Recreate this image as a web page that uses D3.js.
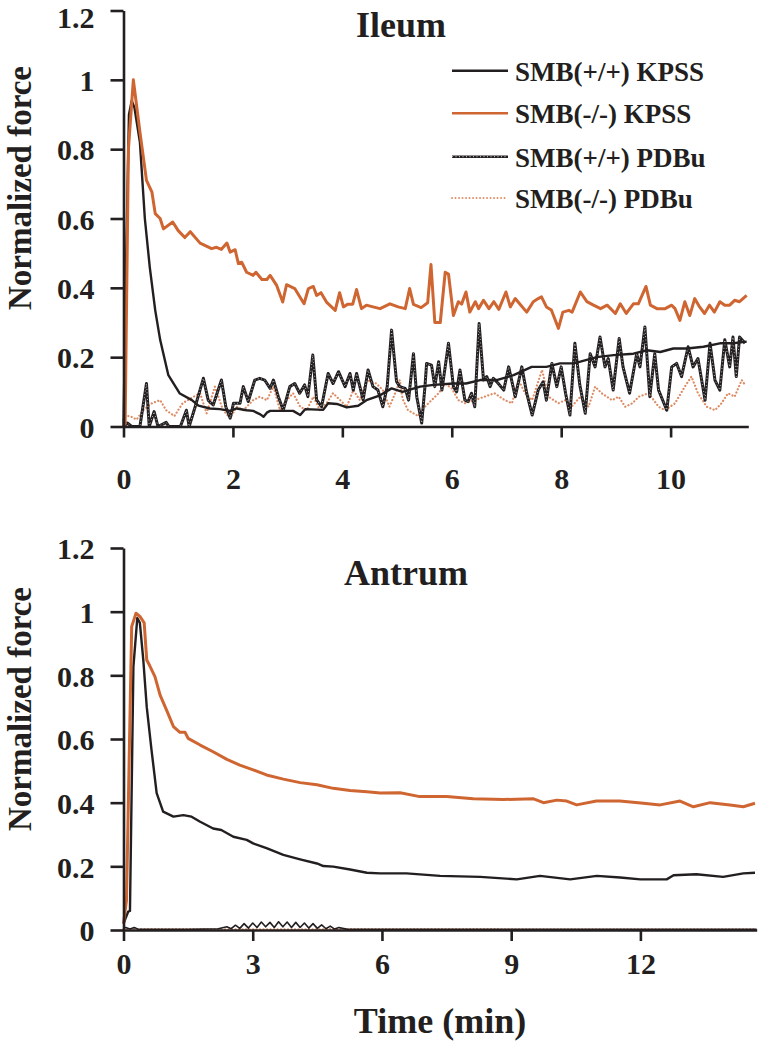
<!DOCTYPE html>
<html>
<head>
<meta charset="utf-8">
<script src="https://cdn.jsdelivr.net/npm/d3@7"></script>
<style>
  html, body { margin: 0; padding: 0; background: #fff; }
  svg { display: block; }
  text { font-family: "Liberation Serif", "Times New Roman", serif; font-weight: bold; fill: #231f20; }
</style>
</head>
<body>
<script>
// ---------------- DATA ----------------
const yTicks = [0, 0.2, 0.4, 0.6, 0.8, 1, 1.2];
const ileumXTicks = [0, 2, 4, 6, 8, 10];
const antrumXTicks = [0, 3, 6, 9, 12];
const seriesNames = ["SMB(+/+) KPSS", "SMB(-/-) KPSS", "SMB(+/+) PDBu", "SMB(-/-) PDBu"];

// Ileum: [time (min), normalized force]
const ileumKpssWT = [[0,0],[0.05,0.5],[0.1,0.9],[0.15,0.94],[0.2,0.92],[0.3,0.82],[0.39,0.6],[0.48,0.46],[0.58,0.335],[0.67,0.25],[0.82,0.148],[1.03,0.095],[1.25,0.076],[1.37,0.06],[1.58,0.052],[1.76,0.05],[1.95,0.045],[2.07,0.052],[2.25,0.047],[2.37,0.045],[2.5,0.035],[2.56,0.028],[2.62,0.04],[2.68,0.045],[2.98,0.045],[3.1,0.045],[3.23,0.033],[3.32,0.05],[3.65,0.048],[3.74,0.067],[3.9,0.065],[4.08,0.055],[4.29,0.06],[4.44,0.076],[4.69,0.09],[4.9,0.11],[5.1,0.1],[5.42,0.115],[5.67,0.12],[6.03,0.124],[6.26,0.124],[6.52,0.134],[6.82,0.134],[7.13,0.148],[7.46,0.172],[7.73,0.172],[7.98,0.182],[8.22,0.182],[8.35,0.187],[8.65,0.2],[8.96,0.206],[9.32,0.21],[9.57,0.22],[9.81,0.215],[10.05,0.225],[10.3,0.225],[10.6,0.23],[10.9,0.24],[11.14,0.24],[11.39,0.245]];

const ileumKpssKO = [[0,0],[0.03,0.01],[0.09,0.8],[0.18,1.0],[0.3,0.85],[0.42,0.71],[0.52,0.676],[0.58,0.614],[0.67,0.6],[0.73,0.57],[0.9,0.59],[1.0,0.565],[1.12,0.545],[1.22,0.562],[1.4,0.529],[1.61,0.513],[1.7,0.517],[1.79,0.511],[1.89,0.529],[1.95,0.503],[2.04,0.51],[2.1,0.47],[2.16,0.474],[2.25,0.445],[2.37,0.436],[2.42,0.445],[2.53,0.424],[2.62,0.424],[2.68,0.436],[2.8,0.407],[2.91,0.359],[2.98,0.409],[3.13,0.398],[3.3,0.354],[3.38,0.398],[3.47,0.404],[3.53,0.378],[3.61,0.386],[3.71,0.359],[3.87,0.335],[3.95,0.386],[4.02,0.345],[4.1,0.353],[4.19,0.353],[4.26,0.395],[4.35,0.34],[4.44,0.35],[4.56,0.345],[4.69,0.34],[4.87,0.354],[5.02,0.345],[5.15,0.34],[5.23,0.398],[5.3,0.352],[5.44,0.343],[5.56,0.357],[5.62,0.467],[5.69,0.3],[5.79,0.3],[5.88,0.445],[5.94,0.44],[6.03,0.32],[6.12,0.36],[6.18,0.353],[6.26,0.388],[6.33,0.33],[6.43,0.36],[6.49,0.34],[6.58,0.364],[6.68,0.34],[6.77,0.36],[6.86,0.338],[6.99,0.388],[7.07,0.345],[7.16,0.369],[7.24,0.354],[7.37,0.33],[7.49,0.36],[7.58,0.369],[7.64,0.374],[7.73,0.345],[7.82,0.336],[7.95,0.283],[8.03,0.33],[8.14,0.335],[8.2,0.33],[8.35,0.388],[8.47,0.36],[8.59,0.35],[8.72,0.34],[8.84,0.35],[8.99,0.326],[9.08,0.354],[9.19,0.326],[9.32,0.354],[9.41,0.354],[9.55,0.404],[9.63,0.35],[9.75,0.34],[9.9,0.34],[10.02,0.35],[10.08,0.34],[10.17,0.306],[10.26,0.36],[10.35,0.32],[10.44,0.369],[10.53,0.345],[10.62,0.326],[10.71,0.35],[10.8,0.33],[10.9,0.36],[10.99,0.35],[11.08,0.35],[11.17,0.364],[11.26,0.36],[11.39,0.378]];

const ileumPdbuWT = [[0,0],[0.07,0.01],[0.15,0.0],[0.3,0.0],[0.42,0.124],[0.47,0.0],[0.56,0.043],[0.63,0.0],[0.78,0.012],[0.83,0.0],[1.04,0.0],[1.15,0.047],[1.2,0.0],[1.31,0.057],[1.46,0.139],[1.55,0.075],[1.64,0.062],[1.79,0.134],[1.87,0.057],[1.95,0.024],[2.01,0.067],[2.13,0.067],[2.19,0.115],[2.28,0.072],[2.4,0.134],[2.49,0.139],[2.58,0.134],[2.68,0.11],[2.74,0.134],[2.83,0.086],[2.92,0.047],[3.04,0.115],[3.13,0.124],[3.22,0.096],[3.31,0.12],[3.37,0.086],[3.46,0.206],[3.53,0.077],[3.62,0.057],[3.74,0.153],[3.83,0.124],[3.93,0.158],[4.05,0.115],[4.14,0.153],[4.2,0.105],[4.26,0.153],[4.38,0.077],[4.47,0.163],[4.56,0.115],[4.65,0.105],[4.74,0.057],[4.82,0.115],[4.9,0.278],[4.99,0.13],[5.05,0.115],[5.15,0.11],[5.21,0.076],[5.3,0.21],[5.36,0.086],[5.45,0.01],[5.51,0.115],[5.54,0.182],[5.63,0.177],[5.69,0.115],[5.76,0.187],[5.82,0.105],[5.94,0.24],[6.03,0.115],[6.09,0.1],[6.15,0.163],[6.24,0.076],[6.3,0.072],[6.36,0.096],[6.42,0.057],[6.5,0.297],[6.58,0.134],[6.64,0.144],[6.7,0.115],[6.76,0.139],[6.85,0.124],[6.95,0.105],[7.04,0.172],[7.16,0.086],[7.28,0.172],[7.37,0.096],[7.47,0.033],[7.58,0.105],[7.67,0.129],[7.73,0.076],[7.83,0.182],[7.92,0.115],[8.0,0.172],[8.08,0.096],[8.16,0.033],[8.25,0.24],[8.34,0.12],[8.44,0.038],[8.53,0.21],[8.62,0.172],[8.71,0.258],[8.8,0.172],[8.86,0.196],[8.95,0.105],[9.06,0.254],[9.13,0.172],[9.25,0.096],[9.38,0.21],[9.44,0.172],[9.53,0.287],[9.62,0.086],[9.71,0.21],[9.78,0.105],[9.93,0.047],[10.02,0.172],[10.11,0.182],[10.2,0.144],[10.32,0.23],[10.41,0.172],[10.5,0.196],[10.63,0.076],[10.72,0.24],[10.81,0.134],[10.9,0.105],[10.99,0.25],[11.08,0.172],[11.14,0.258],[11.2,0.144],[11.26,0.258],[11.36,0.24]];

const ileumPdbuKO = [[0,0.02],[0.03,0.03],[0.12,0.03],[0.24,0.02],[0.36,0.047],[0.52,0.067],[0.67,0.076],[0.78,0.047],[0.93,0.03],[1.08,0.067],[1.28,0.086],[1.4,0.096],[1.52,0.038],[1.67,0.115],[1.82,0.047],[1.95,0.024],[2.07,0.057],[2.19,0.047],[2.37,0.076],[2.49,0.086],[2.62,0.076],[2.74,0.115],[2.86,0.047],[2.98,0.076],[3.1,0.096],[3.23,0.057],[3.35,0.047],[3.47,0.086],[3.59,0.047],[3.71,0.067],[3.83,0.096],[3.96,0.076],[4.08,0.057],[4.2,0.105],[4.32,0.076],[4.44,0.134],[4.62,0.124],[4.74,0.105],[4.86,0.057],[4.99,0.105],[5.05,0.134],[5.1,0.08],[5.2,0.047],[5.39,0.03],[5.51,0.057],[5.63,0.076],[5.76,0.096],[5.88,0.124],[6.0,0.11],[6.12,0.076],[6.24,0.067],[6.42,0.076],[6.6,0.086],[6.78,0.096],[6.97,0.076],[7.1,0.067],[7.22,0.134],[7.34,0.096],[7.47,0.076],[7.65,0.163],[7.77,0.086],[7.95,0.067],[8.07,0.076],[8.19,0.057],[8.35,0.086],[8.5,0.057],[8.62,0.115],[8.74,0.096],[8.93,0.076],[9.05,0.086],[9.17,0.057],[9.3,0.067],[9.42,0.086],[9.6,0.096],[9.78,0.057],[9.9,0.047],[10.08,0.067],[10.26,0.115],[10.38,0.144],[10.5,0.096],[10.66,0.057],[10.81,0.047],[10.93,0.067],[11.05,0.096],[11.17,0.086],[11.3,0.134],[11.36,0.12]];

// Antrum
const antrumKpssWT = [[0,0.02],[0.11,0.058],[0.15,0.06],[0.23,0.827],[0.32,0.98],[0.38,0.965],[0.46,0.848],[0.54,0.7],[0.65,0.566],[0.77,0.43],[0.92,0.372],[1.16,0.356],[1.39,0.361],[1.58,0.356],[1.78,0.34],[2.08,0.319],[2.27,0.314],[2.55,0.293],[2.86,0.283],[3.01,0.272],[3.32,0.257],[3.71,0.236],[4.1,0.222],[4.49,0.209],[4.64,0.201],[4.87,0.199],[5.26,0.19],[5.65,0.18],[5.96,0.178],[6.57,0.178],[7.35,0.17],[8.28,0.167],[9.13,0.159],[9.67,0.17],[10.37,0.159],[10.99,0.17],[11.53,0.165],[12.0,0.159],[12.61,0.159],[12.77,0.172],[13.3,0.175],[13.92,0.167],[14.39,0.178],[14.66,0.18]];

const antrumKpssKO = [[0,0.02],[0.07,0.094],[0.19,0.953],[0.29,0.995],[0.38,0.985],[0.48,0.965],[0.54,0.848],[0.61,0.83],[0.73,0.796],[0.85,0.738],[1.0,0.691],[1.16,0.639],[1.31,0.621],[1.43,0.621],[1.5,0.602],[1.78,0.581],[2.08,0.56],[2.4,0.536],[2.7,0.518],[3.01,0.503],[3.32,0.487],[3.71,0.474],[4.1,0.463],[4.49,0.456],[4.87,0.445],[5.26,0.438],[5.65,0.434],[5.96,0.43],[6.42,0.431],[6.88,0.419],[7.5,0.419],[8.12,0.412],[8.82,0.41],[9.52,0.412],[9.75,0.4],[10.06,0.408],[10.29,0.405],[10.52,0.393],[10.98,0.405],[11.52,0.405],[12.07,0.398],[12.46,0.393],[12.92,0.405],[13.23,0.387],[13.62,0.4],[14.08,0.393],[14.39,0.387],[14.66,0.398]];

const antrumPdbuWT = [[0,0.005],[0.05,0.008],[0.15,0.003],[0.25,0.008],[0.35,0.002],[0.6,0.002],[1.5,0.002],[2.2,0.004],[2.4,0.01],[2.5,0.004],[2.6,0.015],[2.7,0.005],[2.8,0.02],[2.9,0.006],[3.0,0.022],[3.1,0.008],[3.2,0.025],[3.3,0.01],[3.4,0.024],[3.5,0.008],[3.6,0.026],[3.7,0.01],[3.8,0.025],[3.9,0.008],[4.0,0.024],[4.1,0.008],[4.2,0.022],[4.3,0.006],[4.4,0.02],[4.5,0.005],[4.6,0.016],[4.7,0.004],[4.8,0.012],[4.9,0.003],[5.0,0.008],[5.2,0.002],[7.0,0.002],[14.7,0.002]];

const antrumPdbuKO = [[0,0.003],[3,0.002],[7,0.003],[10,0.002],[14.7,0.002]];

// ---------------- STYLE / LAYOUT ----------------
const W = 758, H = 1041;
const BLACK = "#231f20", ORANGE = "#cf6530";
const FONT = '"Liberation Serif", "Times New Roman", serif';
const svg = d3.select("body").append("svg").attr("width", W).attr("height", H);

const styles = [
  { name: seriesNames[0], color: BLACK, width: 2.4 },
  { name: seriesNames[1], color: ORANGE, width: 3 },
  { name: seriesNames[2], color: BLACK, width: 3, whiteDots: true },
  { name: seriesNames[3], color: ORANGE, width: 2.2, dash: "0.1,3.4", opacity: 0.75 }
];

function drawPanel(cfg) {
  const x = d3.scaleLinear().domain([0, cfg.xMax]).range([cfg.x0, cfg.x1]);
  const y = d3.scaleLinear().domain([0, 1.2]).range([cfg.y0, cfg.y1]);
  const g = svg.append("g");

  const line = d3.line().x(d => x(d[0])).y(d => y(d[1]));
  const order = [3, 2, 0, 1];
  order.forEach(i => {
    const s = styles[i];
    const w = (cfg.thinPdbu && i === 2) ? 1.6 : s.width;
    const p = g.append("path").datum(cfg.series[i]).attr("d", line)
      .attr("fill", "none").attr("stroke", s.color).attr("stroke-width", w)
      .attr("stroke-linejoin", "round");
    if (s.dash) p.attr("stroke-dasharray", s.dash).attr("stroke-linecap", "round");
    if (s.opacity) p.attr("stroke-opacity", s.opacity);
    if (s.whiteDots && !cfg.thinPdbu) {
      g.append("path").datum(cfg.series[i]).attr("d", line)
        .attr("fill", "none").attr("stroke", "#fff").attr("stroke-width", 0.8)
        .attr("stroke-dasharray", "0.8,2.6");
    }
  });

  // axes
  const yAxis = d3.axisLeft(y).tickValues(yTicks).tickFormat(d3.format("~g"))
    .tickSize(13).tickSizeOuter(0).tickPadding(16);
  const ya = g.append("g").attr("transform", `translate(${cfg.x0},0)`).call(yAxis);
  const xAxis = d3.axisBottom(x).tickValues(cfg.xTicks).tickFormat(d3.format("~g"))
    .tickSize(11).tickSizeOuter(0).tickPadding(cfg.xPad);
  const xa = g.append("g").attr("transform", `translate(0,${cfg.y0})`).call(xAxis);
  [ya, xa].forEach(a => {
    a.attr("font-family", FONT);
    a.select(".domain").attr("stroke", BLACK).attr("stroke-width", 2.6);
    a.selectAll(".tick line").attr("stroke", BLACK).attr("stroke-width", 2.6);
    a.selectAll(".tick text").attr("fill", BLACK)
      .style("font-size", "30px").style("font-family", FONT)
      .style("font-weight", "bold");
  });
  ya.selectAll(".tick text").attr("dy", "0.36em");
  if (cfg.topLabelDy) {
    ya.selectAll(".tick text").filter(d => d === 1.2).attr("dy", cfg.topLabelDy);
  }

  // y label
  svg.append("text")
    .attr("transform", `translate(${cfg.yLabelX},${cfg.yLabelY}) rotate(-90)`)
    .attr("text-anchor", "middle").style("font-size", "33px")
    .text("Normalized force");
  // title
  svg.append("text").attr("x", cfg.titleX).attr("y", cfg.titleY)
    .attr("text-anchor", "middle").style("font-size", "36px").text(cfg.title);
  return { x, y };
}

drawPanel({
  xMax: 11.42, x0: 123.5, x1: 748.3, y0: 426.5, y1: 10.5, xTicks: ileumXTicks, xPad: 30,
  series: [ileumKpssWT, ileumKpssKO, ileumPdbuWT, ileumPdbuKO], topLabelDy: "0.56em",
  yLabelX: 31, yLabelY: 188, title: "Ileum", titleX: 401, titleY: 37
});
drawPanel({
  xMax: 14.7, x0: 123.5, x1: 756.7, y0: 930, y1: 548, xTicks: antrumXTicks, xPad: 12,
  series: [antrumKpssWT, antrumKpssKO, antrumPdbuWT, antrumPdbuKO], thinPdbu: true,
  yLabelX: 31, yLabelY: 709, title: "Antrum", titleX: 406, titleY: 585
});

// x label
svg.append("text").attr("x", 440).attr("y", 1033).attr("text-anchor", "middle")
  .style("font-size", "36px").text("Time (min)");

// legend
const legendY = [70.7, 113.3, 156.7, 198];
const lg = svg.append("g");
styles.forEach((s, i) => {
  const yy = legendY[i];
  const l = lg.append("line").attr("x1", 452).attr("x2", 508).attr("y1", yy).attr("y2", yy)
    .attr("stroke", s.color).attr("stroke-width", s.whiteDots ? 2.6 : (i === 3 ? 1.8 : 2.6));
  if (s.dash) l.attr("stroke-dasharray", s.dash).attr("stroke-linecap", "round").attr("stroke-opacity", s.opacity);
  if (s.whiteDots) lg.append("line").attr("x1", 452).attr("x2", 508).attr("y1", yy).attr("y2", yy)
    .attr("stroke", "#fff").attr("stroke-width", 0.8).attr("stroke-dasharray", "1,2.5");
  lg.append("text").attr("x", 515).attr("y", yy + 10).style("font-size", "27px").text(s.name);
});
</script>
</body>
</html>
